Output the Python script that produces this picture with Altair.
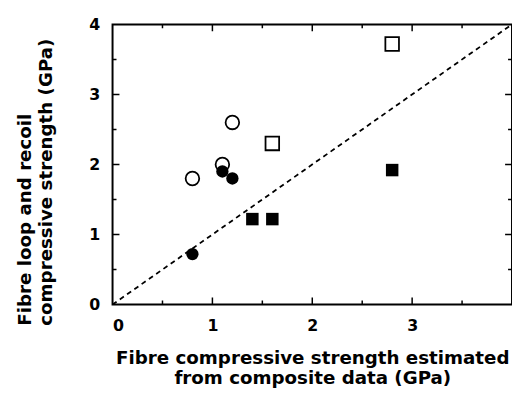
import altair as alt
import pandas as pd

# ---- data ----
open_circle_x = [0.8, 1.1, 1.2]
open_circle_y = [1.8, 2.0, 2.6]
filled_circle_x = [0.8, 1.1, 1.2]
filled_circle_y = [0.72, 1.9, 1.8]
open_square_x = [1.6, 2.8]
open_square_y = [2.3, 3.72]
filled_square_x = [1.4, 1.6, 2.8]
filled_square_y = [1.22, 1.22, 1.92]
line_x = [0, 4]
line_y = [0, 4]
x_tick_labels = [0, 1, 2, 3]
y_tick_labels = [0, 1, 2, 3, 4]
major_ticks = [1, 2, 3]
minor_ticks = [0.5, 1.5, 2.5, 3.5]
axis_min, axis_max = 0, 4
x_title = ["Fibre compressive strength estimated", "from composite data (GPa)"]
y_title = ["Fibre loop and recoil", "compressive strength (GPa)"]

W, H = 405, 284
FONT = "DejaVu Sans"
MAJOR, MINOR = 14, 8   # full tick-mark length; half of it lies inside the frame

xs = alt.Scale(domain=[axis_min, axis_max], nice=False, zero=False)
ys = alt.Scale(domain=[axis_min, axis_max], nice=False, zero=False)

x_label_axis = alt.Axis(orient="bottom", values=x_tick_labels, format="d", ticks=False, tickSize=0,
                        domain=False, grid=False, labelFont=FONT, labelFontSize=16,
                        labelFontWeight="bold", labelColor="black", labelPadding=13,
                        title=x_title, titleFont=FONT, titleFontSize=18.5,
                        titleFontWeight="bold", titleColor="black", titleLineHeight=20,
                        titleBaseline="top", titleY=45)
y_label_axis = alt.Axis(orient="left", values=y_tick_labels, format="d", ticks=False, tickSize=0,
                        domain=False, grid=False, labelFont=FONT, labelFontSize=16,
                        labelFontWeight="bold", labelColor="black", labelPadding=13,
                        title=y_title, titleFont=FONT, titleFontSize=18.5,
                        titleFontWeight="bold", titleColor="black", titleLineHeight=21,
                        titleBaseline="top", titleAlign="left", titleAngle=270,
                        titleX=-98, titleY=305)

line_df = pd.DataFrame({"x": line_x, "y": line_y})
oc_df = pd.DataFrame({"x": open_circle_x, "y": open_circle_y})
fc_df = pd.DataFrame({"x": filled_circle_x, "y": filled_circle_y})
os_df = pd.DataFrame({"x": open_square_x, "y": open_square_y})
fs_df = pd.DataFrame({"x": filled_square_x, "y": filled_square_y})


def x_ticks(vals, length, edge):
    return alt.Chart(pd.DataFrame({"x": vals})).mark_tick(
        orient="vertical", size=length, thickness=1.5, color="black", opacity=1, clip=True
    ).encode(x=alt.X("x:Q", scale=xs), y=alt.datum(edge, scale=ys))


def y_ticks(vals, length, edge):
    return alt.Chart(pd.DataFrame({"y": vals})).mark_tick(
        orient="horizontal", size=length, thickness=1.5, color="black", opacity=1, clip=True
    ).encode(y=alt.Y("y:Q", scale=ys), x=alt.datum(edge, scale=xs))


ticks = [
    x_ticks(major_ticks, MAJOR, axis_min), x_ticks(minor_ticks, MINOR, axis_min),
    x_ticks(major_ticks, MAJOR, axis_max), x_ticks(minor_ticks, MINOR, axis_max),
    y_ticks(major_ticks, MAJOR, axis_min), y_ticks(minor_ticks, MINOR, axis_min),
    y_ticks(major_ticks, MAJOR, axis_max), y_ticks(minor_ticks, MINOR, axis_max),
]

line = alt.Chart(line_df).mark_line(color="black", strokeDash=[5, 4], strokeWidth=1.8, clip=True).encode(
    x=alt.X("x:Q", scale=xs, axis=x_label_axis),
    y=alt.Y("y:Q", scale=ys, axis=y_label_axis),
)

oc = alt.Chart(oc_df).mark_point(shape="circle", filled=False, stroke="black", strokeWidth=1.8,
                                 size=190, opacity=1).encode(
    x=alt.X("x:Q", scale=xs), y=alt.Y("y:Q", scale=ys))

fc = alt.Chart(fc_df).mark_point(shape="circle", filled=True, color="black", size=156, opacity=1).encode(
    x=alt.X("x:Q", scale=xs), y=alt.Y("y:Q", scale=ys))

osq = alt.Chart(os_df).mark_point(shape="square", filled=False, stroke="black", strokeWidth=1.8,
                                  size=190, opacity=1).encode(
    x=alt.X("x:Q", scale=xs), y=alt.Y("y:Q", scale=ys))

fsq = alt.Chart(fs_df).mark_point(shape="square", filled=True, color="black", size=160, opacity=1).encode(
    x=alt.X("x:Q", scale=xs), y=alt.Y("y:Q", scale=ys))

chart = alt.layer(line, oc, fc, osq, fsq, *ticks).properties(
    width=W, height=H,
    autosize=alt.AutoSizeParams(type="none"),
    padding={"left": 106, "top": 14, "right": 0, "bottom": 83},
    background="white",
).configure_view(stroke="black", strokeWidth=2)

chart.save("out.html", embed_options={"renderer": "svg", "actions": False})
